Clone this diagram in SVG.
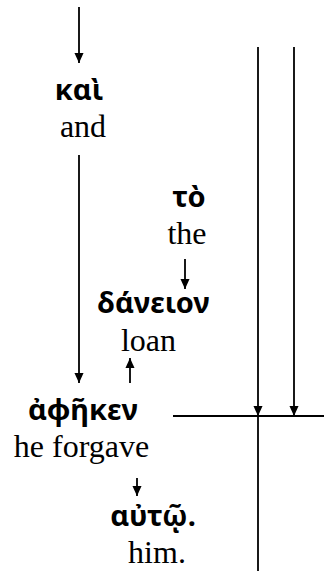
<svg xmlns="http://www.w3.org/2000/svg" width="324" height="571" viewBox="0 0 324 571">
<defs>
<marker id="ah" markerWidth="10" markerHeight="11" refX="11" refY="5" orient="auto" markerUnits="userSpaceOnUse" viewBox="0 0 11 10">
<path d="M0,0 L11,5 L0,10 Z" fill="#000"/>
</marker>
<style>
.gk{font-family:"Noto Sans","DejaVu Sans",sans-serif;font-weight:bold;font-size:29px;fill:#000;text-anchor:middle}
.en{font-family:"Liberation Serif","Times New Roman",serif;font-size:32px;fill:#000;text-anchor:middle}
.ln{stroke:#000;stroke-width:1.8;fill:none}
.ar{stroke:#000;stroke-width:1.8;fill:none;marker-end:url(#ah)}
</style>
</defs>
<rect width="324" height="571" fill="#fff"/>
<g id="connectors">
<line class="ar" x1="79" y1="7" x2="79" y2="63"/>
<line class="ar" x1="79" y1="155" x2="79" y2="383"/>
<line class="ar" x1="185" y1="259" x2="185" y2="289"/>
<line class="ar" x1="130" y1="383" x2="130" y2="358"/>
<line class="ar" x1="137" y1="478" x2="137" y2="496"/>
<line class="ar" x1="258" y1="47" x2="258" y2="416"/>
<line class="ln" x1="258" y1="416" x2="258" y2="571"/>
<line class="ar" x1="294" y1="47" x2="294" y2="416"/>
<line class="ln" x1="173" y1="416" x2="324" y2="416"/>
</g>
<g id="kai"><text class="gk" x="79" y="100">καὶ</text><text class="en" x="83" y="137">and</text></g>
<g id="to"><text class="gk" x="189" y="207">τὸ</text><text class="en" x="187" y="244">the</text></g>
<g id="daneion"><text class="gk" x="153.5" y="313">δάνειον</text><text class="en" x="148.5" y="351">loan</text></g>
<g id="afeken"><text class="gk" x="83" y="420">ἀφῆκεν</text><text class="en" x="81.5" y="457">he forgave</text></g>
<g id="auto"><text class="gk" x="153" y="526">αὐτῷ.</text><text class="en" x="157" y="563">him.</text></g>
</svg>
